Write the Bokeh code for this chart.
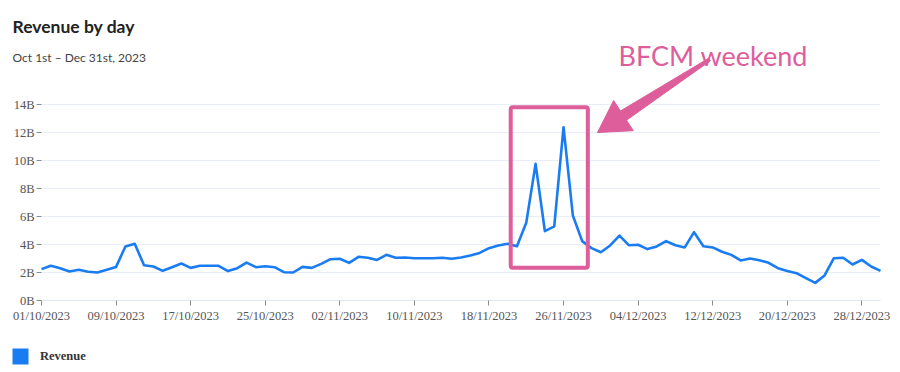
import numpy as np
import pandas as pd
from bokeh.plotting import figure
from bokeh.models import (Range1d, FixedTicker, DatetimeTickFormatter, PrintfTickFormatter,
                          BoxAnnotation, Label, PolyAnnotation, Legend, LegendItem)
from bokeh.embed import file_html
from bokeh.resources import INLINE

# ---------------- data ----------------
start_date = "2023-10-01"
revenue_b = [2.24, 2.48, 2.31, 2.07, 2.19, 2.05, 2.00, 2.19, 2.40, 3.86,
             4.05, 2.52, 2.43, 2.12, 2.38, 2.64, 2.33, 2.48, 2.48, 2.48,
             2.10, 2.31, 2.71, 2.38, 2.45, 2.38, 2.02, 2.00, 2.40, 2.33,
             2.62, 2.95, 2.98, 2.69, 3.12, 3.05, 2.90, 3.26, 3.05, 3.07,
             3.02, 3.02, 3.02, 3.05, 2.98, 3.07, 3.21, 3.40, 3.74, 3.93,
             4.05, 3.88, 5.55, 9.76, 4.95, 5.29, 12.38, 6.07, 4.24, 3.74,
             3.45, 3.93, 4.64, 3.95, 3.98, 3.67, 3.86, 4.24, 3.95, 3.79,
             4.88, 3.88, 3.79, 3.48, 3.26, 2.86, 3.00, 2.88, 2.69, 2.31,
             2.10, 1.95, 1.60, 1.26, 1.79, 3.02, 3.05, 2.57, 2.90, 2.43, 2.12]
dates = pd.date_range(start_date, periods=len(revenue_b), freq="D")
x_tick_dates = ["2023-10-01", "2023-10-09", "2023-10-17", "2023-10-25",
                "2023-11-02", "2023-11-10", "2023-11-18", "2023-11-26",
                "2023-12-04", "2023-12-12", "2023-12-20", "2023-12-28"]
y_ticks = [0, 2, 4, 6, 8, 10, 12, 14]
series_name = "Revenue"
title_text = "Revenue by day"
subtitle_text = "Oct 1st \u2013 Dec 31st, 2023"
note_text = "BFCM weekend"
bfcm_box = dict(left="2023-11-20 08:00", right="2023-11-28 14:30", top=13.81, bottom=2.34)

# ---------------- layout / styling ----------------
BLUE = "#1a7cf2"
PINK = "#de5e9b"
W, H = 900, 372
PL, PR, PB = 41, 880, 300          # pixel x of first / last day, pixel y of zero
px_per_b = 14.0


def ms(s):
    return pd.Timestamp(s).value / 1e6


x0_ms, x1_ms = ms(dates[0]), ms(dates[-1])
ms_per_px = (x1_ms - x0_ms) / (PR - PL)
x_range = Range1d(x0_ms - PL * ms_per_px, x1_ms + (W - PR) * ms_per_px)
y_range = Range1d(-(H - PB) / px_per_b, PB / px_per_b)

p = figure(width=W, height=H, x_axis_type="datetime", output_backend="svg",
           toolbar_location=None, x_range=x_range, y_range=y_range,
           min_border=0, min_border_left=0, min_border_right=0,
           min_border_top=0, min_border_bottom=0)
p.title.visible = False
p.outline_line_color = None
p.background_fill_color = "white"
p.border_fill_color = "white"

line = p.line(dates, revenue_b, line_color=BLUE, line_width=2.6, line_join="round")
# legend swatch renderer (hidden in the plot, shown only in the legend)
swatch = p.quad(left=dates[:1], right=dates[:1], top=revenue_b[:1], bottom=revenue_b[:1],
                fill_color=BLUE, line_color=None, visible=False)

# axes (pinned inside the frame so titles and legend can use the margins)
p.xaxis.fixed_location = 0
p.yaxis.fixed_location = x0_ms
p.xaxis.bounds = (x0_ms, x1_ms)
p.xaxis.ticker = FixedTicker(ticks=[ms(d) for d in x_tick_dates])
fmt = "%d/%m/%Y"
p.xaxis.formatter = DatetimeTickFormatter(days=fmt, months=fmt, years=fmt, hours=fmt,
                                          hourmin=fmt, minutes=fmt, minsec=fmt,
                                          seconds=fmt, milliseconds=fmt, microseconds=fmt)
p.yaxis.ticker = FixedTicker(ticks=y_ticks)
p.yaxis.formatter = PrintfTickFormatter(format="%dB")
for ax in (p.xaxis, p.yaxis):
    ax.major_label_text_font = "Liberation Serif"
    ax.major_label_text_font_size = "12.5px"
    ax.major_label_text_color = "#555555"
    ax.major_tick_in = 0
    ax.major_tick_out = 5
    ax.minor_tick_line_color = None
    ax.major_tick_line_color = "#8c8c8c"
p.xaxis.axis_line_color = "#dfe5ee"
p.xaxis.major_label_standoff = 3
p.yaxis.axis_line_color = None
p.yaxis.major_label_standoff = 2

p.xgrid.visible = False
p.ygrid.grid_line_color = "#e9eef6"
p.ygrid.grid_line_width = 1
p.ygrid.cross_bounds = (x0_ms, x1_ms)


def sy(py):
    return H - py


# titles
p.add_layout(Label(x=12, y=sy(26), x_units="screen", y_units="screen",
                   text=title_text, text_font="Lato", text_font_style="bold",
                   text_font_size="17.5px", text_color="#222222", text_baseline="alphabetic"))
p.add_layout(Label(x=12, y=sy(57), x_units="screen", y_units="screen",
                   text=subtitle_text, text_font="Lato", text_font_size="12px",
                   text_color="#444444", text_baseline="alphabetic"))

# BFCM annotation
p.add_layout(BoxAnnotation(left=ms(bfcm_box["left"]), right=ms(bfcm_box["right"]),
                           top=bfcm_box["top"], bottom=bfcm_box["bottom"],
                           fill_alpha=0, line_color=PINK, line_alpha=1.0,
                           line_width=4, border_radius=2))
p.add_layout(Label(x=618, y=sy(55), x_units="screen", y_units="screen",
                   text=note_text, text_font="Lato", text_font_size="27px",
                   text_color=PINK, text_baseline="alphabetic"))

# tapered arrow polygon (pixel geometry -> screen units)
tip = np.array([597.0, 132.0])
tail = np.array([709.0, 59.0])
u = (tail - tip) / np.linalg.norm(tail - tip)
n = np.array([-u[1], u[0]])
base = tip + 31 * u
pts = [tip, base + 18 * n, base + 5.5 * n, tail + 1.5 * n,
       tail - 1.5 * n, base - 5.5 * n, base - 18 * n]
p.add_layout(PolyAnnotation(xs=[float(q[0]) for q in pts],
                            ys=[float(sy(q[1])) for q in pts],
                            xs_units="screen", ys_units="screen",
                            fill_color=PINK, fill_alpha=1.0, line_color=PINK,
                            line_alpha=1.0, line_width=1))

# legend
legend = Legend(items=[LegendItem(label=series_name, renderers=[swatch])],
                location=(10, sy(366)), padding=0, margin=0, spacing=0,
                glyph_width=20, glyph_height=20, label_height=20, label_standoff=10,
                border_line_color=None, background_fill_alpha=0,
                label_text_font="Liberation Serif", label_text_font_style="bold",
                label_text_font_size="12.5px", label_text_color="#333333")
p.add_layout(legend, "center")

open("out.html", "w").write(file_html(p, INLINE))
